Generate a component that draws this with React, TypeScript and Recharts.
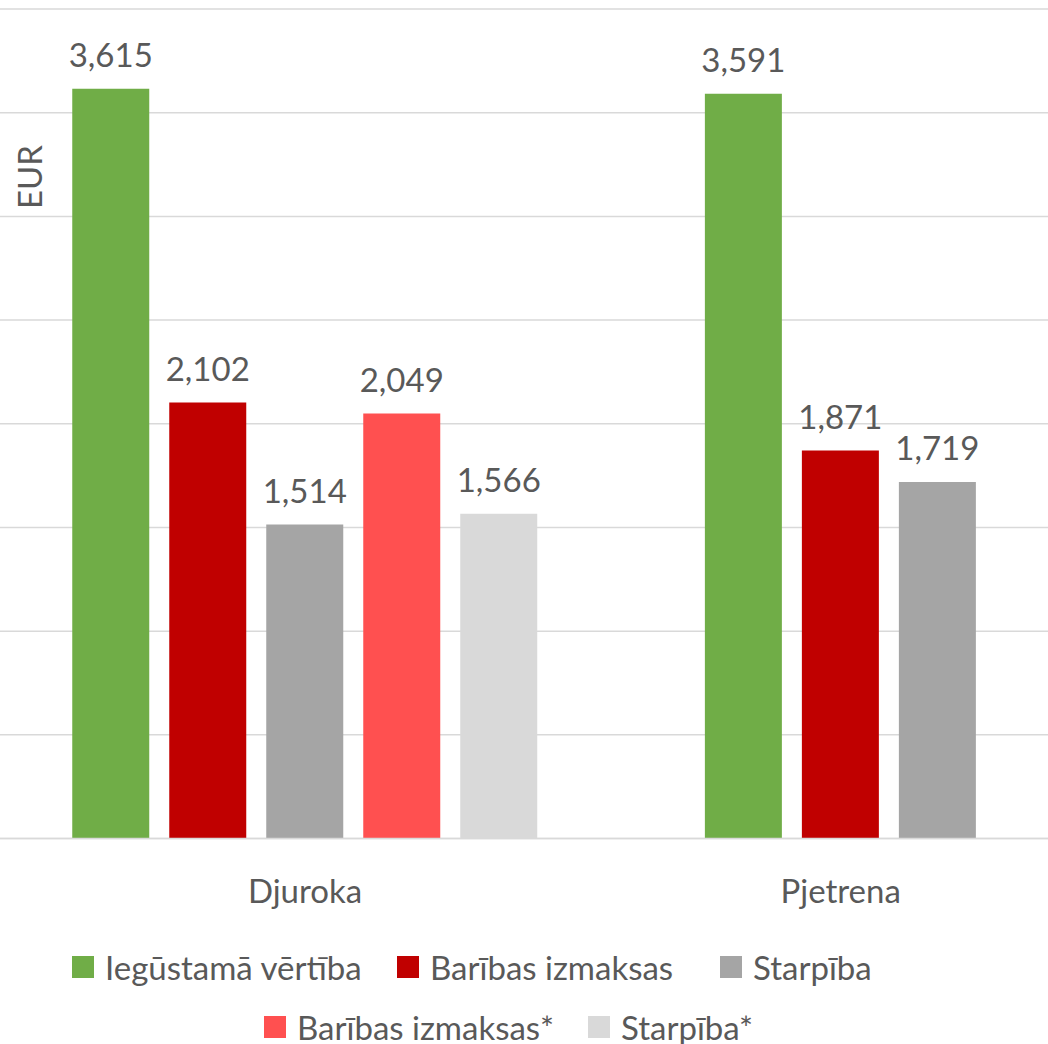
import React from 'react';
import { BarChart, Bar, XAxis, YAxis, CartesianGrid, LabelList, Legend, Cell } from 'recharts';

const categories = ['Djuroka', 'Pjetrena'];
const seriesNames = ['Iegūstamā vērtība', 'Barības izmaksas', 'Starpība', 'Barības izmaksas*', 'Starpība*'];
const seriesColors = ['#70AD47', '#C00000', '#A5A5A5', '#FF5050', '#D9D9D9'];
const iegustamaVertiba = [3615, 3591];
const baribasIzmaksas = [2102, 1871];
const starpiba = [1514, 1719];
const baribasIzmaksasStar = [2049, null];
const starpibaStar = [1566, null];
const yTicks = [0, 500, 1000, 1500, 2000, 2500, 3000, 3500, 4000];
const yAxisTitle = 'EUR';

const seriesValues: (number | null)[][] = [iegustamaVertiba, baribasIzmaksas, starpiba, baribasIzmaksasStar, starpibaStar];
const SLOTS = seriesValues.length;

// In the source chart, each category's present series are centred in its cluster.
const chartData = categories.map((cat, ci) => {
  const present = seriesValues
    .map((vals, si) => ({ si, v: vals[ci] }))
    .filter((p) => p.v != null);
  const start = Math.floor((SLOTS - present.length) / 2);
  const row: any = { category: cat };
  for (let s = 0; s < SLOTS; s++) {
    row[`slot${s}`] = null;
    row[`color${s}`] = '#ffffff';
  }
  present.forEach((p, k) => {
    row[`slot${start + k}`] = p.v;
    row[`color${start + k}`] = seriesColors[p.si];
  });
  return row;
});

const FONT = 'Lato';
const TEXT = '#595959';
const FS = 33;

const fmt = (v: any) => (v == null ? '' : Number(v).toLocaleString('en-US'));

const legendRows = [
  { top: 71, items: [{ si: 0, left: 72 }, { si: 1, left: 397 }, { si: 2, left: 720 }] },
  { top: 131, items: [{ si: 3, left: 264 }, { si: 4, left: 588 }] },
];

const LegendContent = () => (
  <div style={{ position: 'relative', height: 150, width: 1048 }}>
    {legendRows.map((row, ri) =>
      row.items.map((it) => (
        <div
          key={`${ri}-${it.si}`}
          style={{
            position: 'absolute',
            left: it.left,
            top: row.top,
            height: 34,
            display: 'flex',
            alignItems: 'center',
            whiteSpace: 'nowrap',
          }}
        >
          <span style={{ display: 'inline-block', width: 22, height: 22, background: seriesColors[it.si], marginRight: 11 }} />
          <span style={{ fontFamily: FONT, fontSize: FS, color: TEXT, lineHeight: '34px' }}>{seriesNames[it.si]}</span>
        </div>
      ))
    )}
  </div>
);

const EmptyTick = () => <g />;

export default function App() {
  return (
    <div style={{ position: 'absolute', left: 0, top: 0, width: 1048, height: 1044, overflow: 'hidden', background: '#fff' }}>
      <BarChart
        width={1120}
        height={1044}
        data={chartData}
        margin={{ top: 9, right: 11.5, left: 0, bottom: 15.5 }}
        barGap={20}
      >
        <CartesianGrid vertical={false} stroke="#D9D9D9" strokeWidth={1.5} horizontalValues={yTicks} />
        <XAxis
          dataKey="category"
          height={40}
          tickLine={false}
          axisLine={{ stroke: '#D9D9D9', strokeWidth: 1.5 }}
          tick={{ fill: TEXT, fontSize: FS, fontFamily: FONT }}
          tickMargin={35}
          padding={{ left: 37.25, right: 0 }}
          interval={0}
        />
        <YAxis
          width={0}
          domain={[0, 4000]}
          ticks={yTicks}
          tick={<EmptyTick />}
          tickLine={false}
          axisLine={false}
        />
        <Legend verticalAlign="bottom" content={() => <LegendContent />} wrapperStyle={{ left: 0, width: 1048 }} />
        {Array.from({ length: SLOTS }, (_, s) => (
          <Bar key={s} dataKey={`slot${s}`} isAnimationActive={false} barSize={77}>
            {chartData.map((row, i) => (
              <Cell key={i} fill={row[`color${s}`]} />
            ))}
            <LabelList
              dataKey={`slot${s}`}
              position="top"
              offset={22}
              formatter={fmt}
              fill={TEXT}
              fontSize={FS}
              fontFamily={FONT}
            />
          </Bar>
        ))}
      </BarChart>
      <svg width={80} height={400} style={{ position: 'absolute', left: 0, top: 0, pointerEvents: 'none' }}>
        <text x={42} y={177} transform="rotate(-90, 42, 177)" textAnchor="middle" fill={TEXT} fontFamily={FONT} fontSize={FS}>
          {yAxisTitle}
        </text>
      </svg>
    </div>
  );
}
